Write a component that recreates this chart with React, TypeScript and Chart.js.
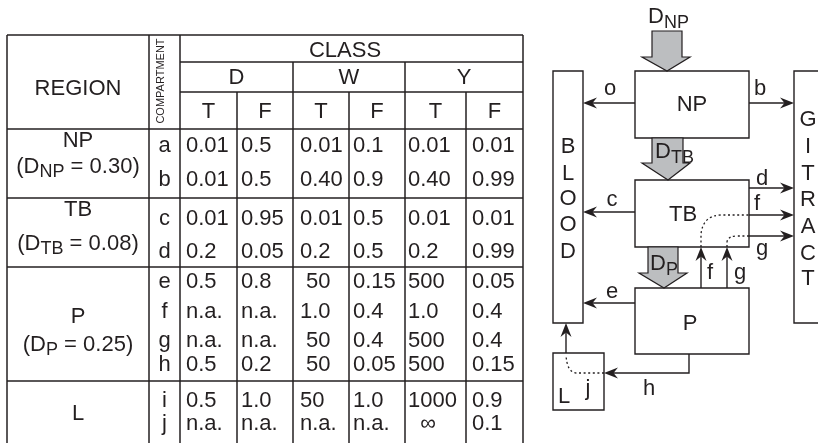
import { useEffect, useRef } from "react";
import { Chart, registerables } from "chart.js";

Chart.register(...registerables);

// ---------------- DATA ----------------
const regions = ["NP", "TB", "P", "L"];
const regionDoseSubs = ["NP", "TB", "P", ""];
const regionDoses = ["0.30", "0.08", "0.25", ""];
const compartments = ["a", "b", "c", "d", "e", "f", "g", "h", "i", "j"];
const classes = ["D", "W", "Y"];
const clearanceTypes = ["T", "F"];

const classD_T = ["0.01", "0.01", "0.01", "0.2", "0.5", "n.a.", "n.a.", "0.5", "0.5", "n.a."];
const classD_F = ["0.5", "0.5", "0.95", "0.05", "0.8", "n.a.", "n.a.", "0.2", "1.0", "n.a."];
const classW_T = ["0.01", "0.40", "0.01", "0.2", " 50", "1.0", " 50", " 50", "50", "n.a."];
const classW_F = ["0.1", "0.9", "0.5", "0.5", "0.15", "0.4", "0.4", "0.05", "1.0", "n.a."];
const classY_T = ["0.01", "0.40", "0.01", "0.2", "500", "1.0", "500", "500", "1000", "  \u221E"];
const classY_F = ["0.01", "0.99", "0.01", "0.99", "0.05", "0.4", "0.4", "0.15", "0.9", "0.1"];

const bloodLetters = ["B", "L", "O", "O", "D"];
const giLetters = ["G", "I", "T", "R", "A", "C", "T"];

// ---------------- LAYOUT (positions in scale units) ----------------
const FONT = "'Liberation Sans', Arial, Helvetica, sans-serif";
const INK = "#231f20";
const GRAY = "#bcbec0";

const COL = [7, 149, 180, 237, 293, 349, 405, 466, 523];
const HEAD_Y = [35, 62, 92, 129];
const GROUP_LINES = [198, 267, 381];
const TABLE_BOTTOM = 446;
const ROW_C = [144, 178, 217, 250, 280, 310, 339, 363, 399, 422];
const GROUP_LABEL_Y = [
  [139, 165],
  [208, 242],
  [315, 343],
  [412],
];
const COL_TEXT_OFF = [6, 4, 7, 4, 3, 6];
const CAP = 8;

const BLOOD_Y = [145, 172, 197, 223, 250];
const GI_Y = [118, 145, 172, 198, 225, 252, 277];

type Part = { t: string; sub?: boolean };

const diagramPlugin = {
  id: "diagram",
  beforeDraw(chart: any) {
    const ctx = chart.ctx;
    ctx.save();
    ctx.fillStyle = "#ffffff";
    ctx.fillRect(0, 0, chart.width, chart.height);
    ctx.restore();
  },
  afterDraw(chart: any) {
    const ctx: CanvasRenderingContext2D = chart.ctx;
    const xs = chart.scales.x;
    const ys = chart.scales.y;
    const X = (v: number) => xs.getPixelForValue(v);
    const Y = (v: number) => ys.getPixelForValue(v);

    const font = (size: number) => `${size}px ${FONT}`;

    const line = (x1: number, y1: number, x2: number, y2: number) => {
      ctx.beginPath();
      ctx.moveTo(X(x1), Y(y1));
      ctx.lineTo(X(x2), Y(y2));
      ctx.stroke();
    };
    const poly = (pts: number[][]) => {
      ctx.beginPath();
      pts.forEach((p, i) => (i ? ctx.lineTo(X(p[0]), Y(p[1])) : ctx.moveTo(X(p[0]), Y(p[1]))));
      ctx.stroke();
    };
    const rect = (x1: number, y1: number, x2: number, y2: number) => {
      ctx.beginPath();
      ctx.rect(X(x1), Y(y1), X(x2) - X(x1), Y(y2) - Y(y1));
      ctx.stroke();
    };
    const text = (s: string, x: number, y: number, align: CanvasTextAlign = "left", size = 22) => {
      ctx.font = font(size);
      ctx.textAlign = align;
      ctx.textBaseline = "alphabetic";
      ctx.fillText(s, X(x), Y(y));
    };
    const rich = (parts: Part[], x: number, y: number, align: "left" | "center", size = 22, subSize = 18, subDrop = 4) => {
      ctx.textBaseline = "alphabetic";
      ctx.textAlign = "left";
      let w = 0;
      parts.forEach((p) => {
        ctx.font = font(p.sub ? subSize : size);
        w += ctx.measureText(p.t).width;
      });
      let cx = align === "center" ? X(x) - w / 2 : X(x);
      parts.forEach((p) => {
        ctx.font = font(p.sub ? subSize : size);
        ctx.fillText(p.t, cx, Y(y) + (p.sub ? subDrop : 0));
        cx += ctx.measureText(p.t).width;
      });
    };
    const head = (tx: number, ty: number, fx: number, fy: number) => {
      const px = X(tx), py = Y(ty);
      const dx = px - X(fx), dy = py - Y(fy);
      const len = Math.hypot(dx, dy) || 1;
      const ux = dx / len, uy = dy / len;
      const nx = -uy, ny = ux;
      const L = 14, W = 5.5, N = 9.5;
      ctx.beginPath();
      ctx.moveTo(px, py);
      ctx.lineTo(px - ux * L + nx * W, py - uy * L + ny * W);
      ctx.lineTo(px - ux * N, py - uy * N);
      ctx.lineTo(px - ux * L - nx * W, py - uy * L - ny * W);
      ctx.closePath();
      ctx.fill();
    };
    const arrow = (pts: number[][]) => {
      const n = pts.length;
      const last = pts[n - 1];
      const prev = pts[n - 2];
      // stop the shaft a bit short of the tip
      const dx = last[0] - prev[0], dy = last[1] - prev[1];
      const len = Math.hypot(dx, dy) || 1;
      const shaftEnd = [last[0] - (dx / len) * 8, last[1] - (dy / len) * 8];
      poly([...pts.slice(0, n - 1), shaftEnd]);
      head(last[0], last[1], prev[0], prev[1]);
    };
    const blockArrow = (s1: number, s2: number, top: number, headY: number, h1: number, h2: number, tipX: number, tipY: number) => {
      ctx.beginPath();
      const pts = [
        [s1, top], [s2, top], [s2, headY], [h2, headY], [tipX, tipY], [h1, headY], [s1, headY],
      ];
      pts.forEach((p, i) => (i ? ctx.lineTo(X(p[0]), Y(p[1])) : ctx.moveTo(X(p[0]), Y(p[1]))));
      ctx.closePath();
      ctx.fillStyle = GRAY;
      ctx.fill();
      ctx.lineWidth = 1.2;
      ctx.stroke();
      ctx.fillStyle = INK;
    };

    ctx.save();
    ctx.strokeStyle = INK;
    ctx.fillStyle = INK;
    ctx.lineCap = "butt";

    // ================= TABLE =================
    ctx.lineWidth = 1.5;
    line(COL[0], HEAD_Y[0], COL[8], HEAD_Y[0]);
    line(COL[2], HEAD_Y[1], COL[8], HEAD_Y[1]);
    line(COL[2], HEAD_Y[2], COL[8], HEAD_Y[2]);
    line(COL[0], HEAD_Y[3], COL[8], HEAD_Y[3]);
    GROUP_LINES.forEach((y) => line(COL[0], y, COL[8], y));
    [0, 1, 2, 8].forEach((i) => line(COL[i], HEAD_Y[0], COL[i], TABLE_BOTTOM));
    [4, 6].forEach((i) => line(COL[i], HEAD_Y[1], COL[i], TABLE_BOTTOM));
    [3, 5, 7].forEach((i) => line(COL[i], HEAD_Y[2], COL[i], TABLE_BOTTOM));

    // headers
    text("REGION", (COL[0] + COL[1]) / 2, 87 + CAP, "center");
    ctx.save();
    ctx.translate(X(161), Y(81));
    ctx.rotate(-Math.PI / 2);
    ctx.font = font(11);
    ctx.textAlign = "center";
    ctx.textBaseline = "middle";
    ctx.fillText("COMPARTMENT", 0, 0);
    ctx.restore();
    text("CLASS", 345, 49 + CAP, "center");
    classes.forEach((c, i) => {
      text(c, (COL[2 + i * 2] + COL[4 + i * 2]) / 2, 76 + CAP, "center");
      clearanceTypes.forEach((t, j) => {
        const k = 2 + i * 2 + j;
        text(t, (COL[k] + COL[k + 1]) / 2, 110 + CAP, "center");
      });
    });

    // region labels
    regions.forEach((r, i) => {
      const ly = GROUP_LABEL_Y[i];
      text(r, (COL[0] + COL[1]) / 2, ly[0] + CAP, "center");
      if (regionDoseSubs[i]) {
        rich(
          [{ t: "(D" }, { t: regionDoseSubs[i], sub: true }, { t: " = " + regionDoses[i] + ")" }],
          (COL[0] + COL[1]) / 2,
          ly[1] + CAP,
          "center"
        );
      }
    });

    // compartments + values
    const valueCols = [classD_T, classD_F, classW_T, classW_F, classY_T, classY_F];
    compartments.forEach((c, r) => {
      text(c, (COL[1] + COL[2]) / 2, ROW_C[r] + CAP, "center");
      valueCols.forEach((col, k) => {
        text(col[r], COL[2 + k] + COL_TEXT_OFF[k], ROW_C[r] + CAP, "left");
      });
    });

    // ================= DIAGRAM =================
    ctx.lineWidth = 1.4;
    // boxes
    rect(553, 71, 583, 323); // blood
    rect(794, 71, 840, 323); // GI tract
    rect(635, 71, 749, 138); // NP
    rect(635, 180, 749, 247); // TB
    rect(635, 288, 749, 354); // P
    rect(553, 353, 604, 410); // L

    // gray deposition arrows
    blockArrow(652, 682, 31, 57, 642, 690, 667, 71);
    blockArrow(652, 683, 138, 163, 642, 690, 668, 180);
    blockArrow(648, 678, 247, 273, 639, 687, 664, 288);
    rich([{ t: "D" }, { t: "NP", sub: true }], 648, 23, "left", 22, 18, 5);
    rich([{ t: "D" }, { t: "TB", sub: true }], 655, 158, "left", 22, 18, 5);
    rich([{ t: "D" }, { t: "P", sub: true }], 650, 270, "left", 22, 18, 5);

    // box labels
    text("NP", 692, 103 + CAP, "center");
    text("TB", 683, 213 + CAP, "center");
    text("P", 690, 322 + CAP, "center");
    text("L", 564, 403, "center");
    text("j", 588, 395, "center");
    bloodLetters.forEach((s, i) => text(s, 568, BLOOD_Y[i] + CAP, "center"));
    giLetters.forEach((s, i) => text(s, 808, GI_Y[i] + CAP, "center"));

    ctx.lineWidth = 1.4;
    // to blood
    arrow([[635, 103], [583, 103]]);
    arrow([[635, 212], [583, 212]]);
    arrow([[635, 303], [583, 303]]);
    // to GI
    arrow([[749, 103], [794, 103]]);
    arrow([[749, 188], [794, 188]]);
    arrow([[749, 215], [794, 215]]);
    arrow([[749, 236], [794, 236]]);
    // P to TB
    arrow([[701, 288], [701, 247]]);
    arrow([[727, 288], [727, 247]]);
    // L to blood
    arrow([[566, 353], [566, 323]]);
    // h
    arrow([[689, 354], [689, 373], [604, 373]]);

    // dotted paths
    ctx.save();
    ctx.setLineDash([2, 2.6]);
    ctx.lineWidth = 1.3;
    ctx.beginPath();
    ctx.moveTo(X(701), Y(247));
    ctx.lineTo(X(701), Y(234));
    ctx.quadraticCurveTo(X(703), Y(215), X(722), Y(215));
    ctx.lineTo(X(749), Y(215));
    ctx.stroke();
    ctx.beginPath();
    ctx.moveTo(X(727), Y(247));
    ctx.lineTo(X(727), Y(242));
    ctx.quadraticCurveTo(X(728), Y(236), X(737), Y(236));
    ctx.lineTo(X(749), Y(236));
    ctx.stroke();
    ctx.beginPath();
    ctx.moveTo(X(604), Y(373));
    ctx.lineTo(X(576), Y(373));
    ctx.quadraticCurveTo(X(567), Y(372), X(566), Y(355));
    ctx.stroke();
    ctx.restore();

    // arrow labels
    text("o", 610, 95, "center");
    text("b", 760, 95, "center");
    text("c", 612, 206, "center");
    text("d", 762, 185, "center");
    text("f", 757, 210, "center");
    text("g", 762, 255, "center");
    text("f", 710, 279, "center");
    text("g", 740, 279, "center");
    text("e", 612, 298, "center");
    text("h", 649, 395, "center");

    ctx.restore();
  },
};

export default function App() {
  const canvasRef = useRef<HTMLCanvasElement | null>(null);

  useEffect(() => {
    document.body.style.margin = "0";
    const canvas = canvasRef.current;
    if (!canvas) return;
    const chart = new Chart(canvas, {
      type: "scatter",
      data: { datasets: [{ data: [], pointRadius: 0 }] },
      options: {
        responsive: false,
        animation: false,
        events: [],
        layout: { padding: 0 },
        plugins: { legend: { display: false }, tooltip: { enabled: false } },
        scales: {
          x: { type: "linear", min: 0, max: 818, display: false },
          y: { type: "linear", min: 0, max: 443, reverse: true, display: false },
        },
      },
      plugins: [diagramPlugin],
    });
    return () => chart.destroy();
  }, []);

  return (
    <div style={{ position: "absolute", left: 0, top: 0, width: 818, height: 443, background: "#fff" }}>
      <canvas ref={canvasRef} width={818} height={443} style={{ display: "block", width: 818, height: 443 }} />
    </div>
  );
}
